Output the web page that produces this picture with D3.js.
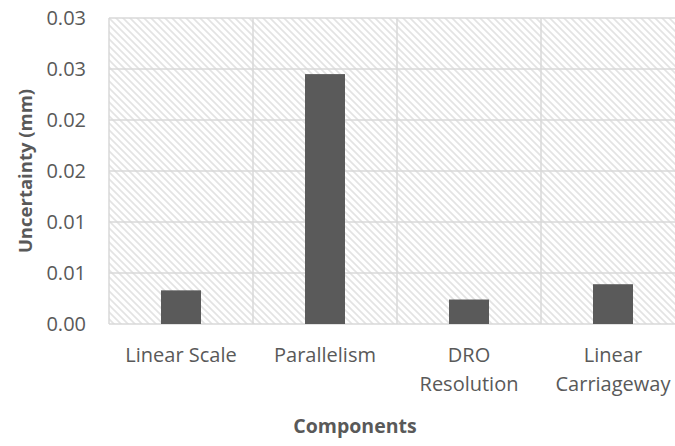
<!DOCTYPE html>
<html>
<head>
<meta charset="utf-8">
<script src="https://cdn.jsdelivr.net/npm/d3@7"></script>
<style>
  body { margin: 0; background: #fff; }
  svg text { font-family: "Open Sans", sans-serif; fill: #595959; }
</style>
</head>
<body>
<div id="chart"></div>
<script>
// data
const categories = ["Linear Scale", "Parallelism", "DRO Resolution", "Linear Carriageway"];
const categoryLines = [["Linear Scale"], ["Parallelism"], ["DRO", "Resolution"], ["Linear", "Carriageway"]];
const uncertainty = [0.0033, 0.0245, 0.0024, 0.0039];
const tickValues = [0, 0.005, 0.01, 0.015, 0.02, 0.025, 0.03];
const tickLabels = ["0.00", "0.01", "0.01", "0.02", "0.02", "0.03", "0.03"];

const width = 675;
const height = 446;
const margin = {top: 18, left: 109, bottom: 122, rightEdge: 685};

const svg = d3.select("#chart")
              .append("svg")
              .attr("width", width)
              .attr("height", height);

// hatched plot background
const defs = svg.append("defs");
const pat = defs.append("pattern")
                .attr("id", "hatch")
                .attr("patternUnits", "userSpaceOnUse")
                .attr("width", 7)
                .attr("height", 7);
pat.append("rect").attr("width", 7).attr("height", 7).attr("fill", "#fff");
pat.append("path")
   .attr("d", "M-1,-1 L8,8 M-1,6 L1,8 M6,-1 L8,1")
   .attr("stroke", "#e3e3e3")
   .attr("stroke-width", 1.6);

const x = d3.scaleBand()
            .domain(categories)
            .range([margin.left, margin.rightEdge])
            .padding(0);

const y = d3.scaleLinear()
            .domain([0, 0.03])
            .range([height - margin.bottom, margin.top]);

svg.append("rect")
   .attr("x", margin.left)
   .attr("y", margin.top)
   .attr("width", margin.rightEdge - margin.left)
   .attr("height", y(0) - margin.top)
   .attr("fill", "url(#hatch)");

// horizontal gridlines
svg.append("g")
   .selectAll("line")
   .data(tickValues)
   .enter()
   .append("line")
   .attr("x1", margin.left)
   .attr("x2", margin.rightEdge)
   .attr("y1", d => y(d))
   .attr("y2", d => y(d))
   .attr("stroke", "#d9d9d9")
   .attr("stroke-width", 1.5);

// vertical category separators
const seps = categories.map(c => x(c)).concat([margin.rightEdge]);
svg.append("g")
   .selectAll("line")
   .data(seps)
   .enter()
   .append("line")
   .attr("x1", d => d)
   .attr("x2", d => d)
   .attr("y1", margin.top)
   .attr("y2", y(0))
   .attr("stroke", "#d9d9d9")
   .attr("stroke-width", 1.5);

// bars
const barWidth = 40;
svg.append("g")
   .selectAll("rect")
   .data(uncertainty)
   .enter()
   .append("rect")
   .attr("x", (d, i) => x(categories[i]) + (x.bandwidth() - barWidth) / 2)
   .attr("y", d => y(d))
   .attr("width", barWidth)
   .attr("height", d => y(0) - y(d))
   .attr("fill", "#5a5a5a");

// y tick labels
svg.append("g")
   .selectAll("text")
   .data(tickValues)
   .enter()
   .append("text")
   .attr("x", 86)
   .attr("y", d => y(d))
   .attr("dy", "0.35em")
   .attr("text-anchor", "end")
   .style("font-size", "20px")
   .text((d, i) => tickLabels[i]);

// x category labels, one text per line
const lineRows = [];
categoryLines.forEach((lines, i) => {
    lines.forEach((t, j) => lineRows.push({cat: categories[i], text: t, row: j}));
});
svg.append("g")
   .selectAll("text")
   .data(lineRows)
   .enter()
   .append("text")
   .attr("x", d => x(d.cat) + x.bandwidth() / 2)
   .attr("y", d => 362 + d.row * 29)
   .attr("text-anchor", "middle")
   .style("font-size", "20px")
   .text(d => d.text);

// axis titles
svg.append("text")
   .attr("x", 355)
   .attr("y", 433)
   .attr("text-anchor", "middle")
   .style("font-size", "19.5px")
   .style("font-weight", "bold")
   .text("Components");

svg.append("text")
   .attr("transform", "translate(32,171) rotate(-90)")
   .attr("text-anchor", "middle")
   .style("font-size", "18.5px")
   .style("font-weight", "bold")
   .text("Uncertainty (mm)");
</script>
</body>
</html>
